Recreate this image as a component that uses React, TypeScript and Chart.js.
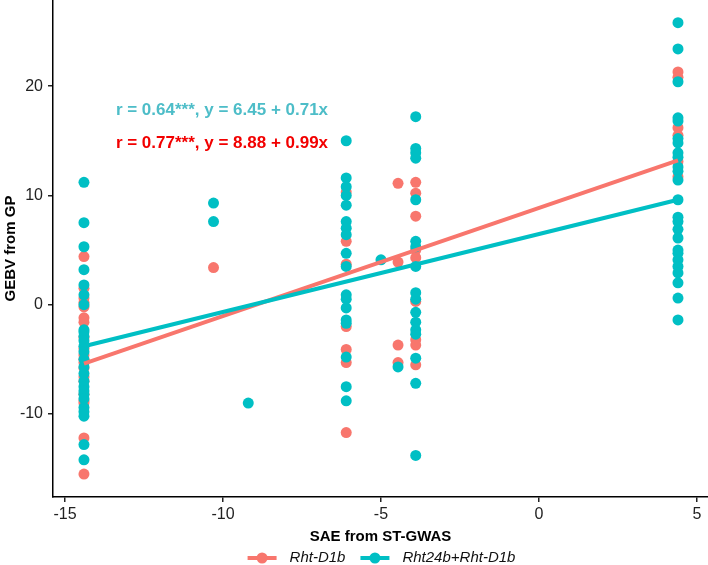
import { useEffect, useRef } from "react";
import React from "react";
import { Chart, ChartConfiguration, Plugin, registerables } from "chart.js";
Chart.register(...registerables);

// SAE levels (x) found in the data, and GEBV values (y) read per level
const saeLevels = [-14.4, -10.3, -9.2, -6.1, -5.0, -4.46, -3.9, 4.4];

const rhtD1bGEBV: number[][] = [
  [4.4, 1.5, 0.6, 0.2, -0.2, -1.2, -1.6, -3.0, -4.0, -4.6, -5.0, -5.3, -5.8, -6.6, -7.0, -8.2, -8.8, -9.0, -12.2, -15.5],
  [3.4],
  [],
  [10.3, 5.8, 3.7, -2.0, -4.1, -5.3, -11.7],
  [],
  [11.1, 3.9, -3.7, -5.3],
  [11.2, 10.2, 8.1, 5.0, 4.3, 0.3, -3.2, -3.7, -5.5],
  [21.3, 20.8, 16.2, 15.5, 13.1, 11.7],
];

const rht24bGEBV: number[][] = [
  [11.2, 7.5, 5.3, 3.2, 1.8, 0.9, 0.0, -2.3, -2.5, -2.9, -3.3, -3.8, -4.3, -5.0, -5.7, -6.3, -7.0, -7.5, -7.9, -8.2, -8.6, -9.4, -9.8, -10.2, -12.8, -14.2],
  [9.3, 7.6],
  [-9.0],
  [15.0, 11.6, 10.8, 10.0, 9.1, 7.6, 7.0, 6.4, 4.7, 3.5, 0.9, 0.5, -0.3, -1.4, -1.7, -4.8, -7.5, -8.8],
  [4.1],
  [-5.7],
  [17.2, 14.3, 13.9, 13.4, 9.6, 5.8, 5.3, 3.5, 1.1, 0.5, -0.7, -1.6, -2.3, -2.7, -4.9, -7.2, -13.8],
  [25.8, 23.4, 20.4, 17.1, 16.8, 15.2, 14.8, 13.9, 13.5, 12.6, 12.2, 11.4, 9.6, 8.0, 7.6, 6.9, 6.1, 5.0, 4.7, 4.1, 3.5, 2.9, 2.0, 0.6, -1.4],
];

// fitted line ends
const fitX = [-14.4, 4.4];
const rhtD1bFit = [-5.4, 13.2];
const rht24bFit = [-3.8, 9.6];

const xTicks = [-15, -10, -5, 0, 5];
const yTicks = [-10, 0, 10, 20];

const groupNames = ["Rht-D1b", "Rht24b+Rht-D1b"];
const pink = "#F8766D";
const teal = "#00BFC4";

const notes = [
  { text: "r = 0.64***, y = 6.45 + 0.71x", color: "#4DBDC8", x: -13.39, y: 17.8 },
  { text: "r = 0.77***, y = 8.88 + 0.99x", color: "#F20000", x: -13.39, y: 14.8 },
];

const FONT = "'Liberation Sans', Arial, Helvetica, sans-serif";

const toPoints = (groups: number[][]) =>
  groups.flatMap((ys, i) => ys.map((y) => ({ x: saeLevels[i], y })));

const extrasPlugin: Plugin = {
  id: "extras",
  afterDraw(chart) {
    const { ctx, chartArea } = chart;
    const x = chart.scales.x;
    const y = chart.scales.y;
    ctx.save();
    ctx.font = `bold 17px ${FONT}`;
    ctx.textBaseline = "middle";
    ctx.textAlign = "left";
    notes.forEach((n) => {
      ctx.fillStyle = n.color;
      ctx.fillText(n.text, x.getPixelForValue(n.x), y.getPixelForValue(n.y));
    });

    // legend below the x title
    ctx.font = `italic 15px ${FONT}`;
    const keyW = 29;
    const keyGap = 13;
    const itemGap = 15;
    const colors = [pink, teal];
    const widths = groupNames.map((g) => ctx.measureText(g).width);
    const total = widths.reduce((a, w) => a + keyW + keyGap + w, 0) + itemGap;
    let lx = (chartArea.left + chartArea.right) / 2 + 1 - total / 2;
    const ly = 558;
    groupNames.forEach((g, i) => {
      ctx.strokeStyle = colors[i];
      ctx.lineWidth = 4;
      ctx.beginPath();
      ctx.moveTo(lx, ly);
      ctx.lineTo(lx + keyW, ly);
      ctx.stroke();
      ctx.fillStyle = colors[i];
      ctx.beginPath();
      ctx.arc(lx + keyW / 2, ly, 5.5, 0, Math.PI * 2);
      ctx.fill();
      ctx.fillStyle = "#111";
      ctx.fillText(g, lx + keyW + keyGap, ly);
      lx += keyW + keyGap + widths[i] + itemGap;
    });
    ctx.restore();
  },
};

const App = () => {
  const ref = useRef<HTMLCanvasElement>(null);

  useEffect(() => {
    document.body.style.margin = "0";
    Chart.defaults.font.family = FONT;

    const axisGrid = {
      display: true,
      drawOnChartArea: false,
      drawTicks: true,
      tickLength: 5,
      color: "#222",
      lineWidth: 1.5,
    };
    const noPad = (s: any) => {
      s.paddingTop = 0;
      s.paddingBottom = 0;
      s.paddingLeft = 0;
      s.paddingRight = 0;
    };

    const config: ChartConfiguration = {
      type: "scatter",
      data: {
        datasets: [
          {
            label: groupNames[1] + " fit",
            data: fitX.map((v, i) => ({ x: v, y: rht24bFit[i] })),
            showLine: true,
            borderColor: teal,
            borderWidth: 4,
            pointRadius: 0,
          },
          {
            label: groupNames[0] + " fit",
            data: fitX.map((v, i) => ({ x: v, y: rhtD1bFit[i] })),
            showLine: true,
            borderColor: pink,
            borderWidth: 4,
            pointRadius: 0,
          },
          {
            label: groupNames[1],
            data: toPoints(rht24bGEBV),
            backgroundColor: teal,
            borderWidth: 0,
            pointRadius: 5.5,
            pointHoverRadius: 5.5,
          },
          {
            label: groupNames[0],
            data: toPoints(rhtD1bGEBV),
            backgroundColor: pink,
            borderWidth: 0,
            pointRadius: 5.5,
            pointHoverRadius: 5.5,
          },
        ],
      },
      options: {
        animation: false,
        responsive: true,
        maintainAspectRatio: false,
        layout: { padding: 0, autoPadding: false },
        plugins: {
          legend: { display: false },
          tooltip: { enabled: false },
        },
        scales: {
          x: {
            type: "linear",
            min: -15.38,
            max: 5.35,
            afterBuildTicks: (s) => {
              s.ticks = xTicks.map((v) => ({ value: v }));
            },
            afterFit: (s) => {
              s.height = 68;
              noPad(s);
            },
            grid: axisGrid,
            border: { display: true, color: "#000", width: 1.5 },
            ticks: { color: "#222", font: { size: 16 }, padding: 3 },
            title: {
              display: true,
              text: "SAE from ST-GWAS",
              color: "#000",
              font: { size: 15, weight: "bold" },
              padding: { top: 0, bottom: 19 },
            },
          },
          y: {
            type: "linear",
            min: -17.6,
            max: 27.88,
            afterBuildTicks: (s) => {
              s.ticks = yTicks.map((v) => ({ value: v }));
            },
            afterFit: (s) => {
              s.width = 53;
              noPad(s);
            },
            grid: axisGrid,
            border: { display: true, color: "#000", width: 1.5 },
            ticks: { color: "#222", font: { size: 16 }, padding: 5 },
            title: {
              display: true,
              text: "GEBV from GP",
              color: "#000",
              font: { size: 15, weight: "bold" },
              padding: { top: 2, bottom: 0 },
            },
          },
        },
      },
      plugins: [extrasPlugin],
    };
    const chart = new Chart(ref.current!, config);
    return () => {
      chart.destroy();
    };
  }, []);

  return (
    <div style={{ position: "relative", width: "708px", height: "565px" }}>
      <canvas ref={ref}></canvas>
    </div>
  );
};
export default App;
